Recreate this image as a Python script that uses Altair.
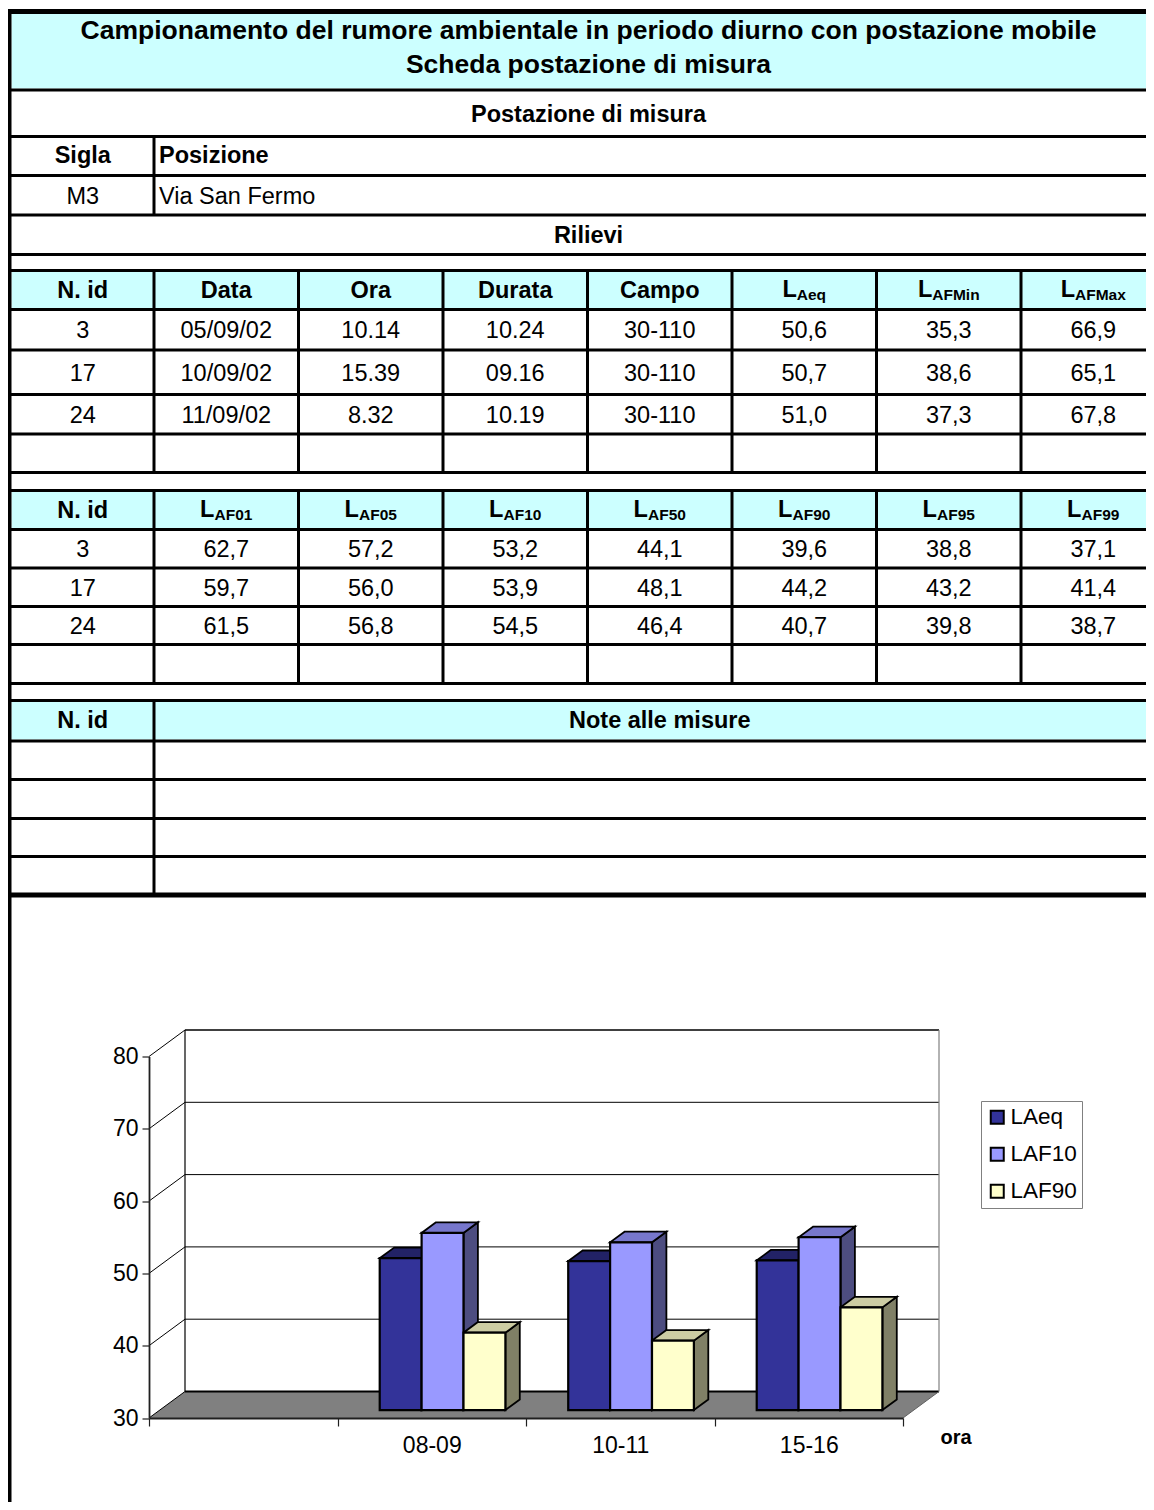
import altair as alt
import pandas as pd

FONT = "Liberation Sans"

# ------------------------------------------------------------------ data
title_lines = ["Campionamento del rumore ambientale in periodo diurno con postazione mobile",
               "Scheda postazione di misura"]
section_postazione = "Postazione di misura"
section_rilievi = "Rilievi"
sigla_header = ["Sigla", "Posizione"]
sigla_values = ["M3", "Via San Fermo"]

head1 = ["N. id", "Data", "Ora", "Durata", "Campo", "L|Aeq", "L|AFMin", "L|AFMax"]
ids = [3, 17, 24]
date = ["05/09/02", "10/09/02", "11/09/02"]
ora = ["10.14", "15.39", "8.32"]
durata = ["10.24", "09.16", "10.19"]
campo = ["30-110", "30-110", "30-110"]
laeq = [50.6, 50.7, 51.0]
lafmin = [35.3, 38.6, 37.3]
lafmax = [66.9, 65.1, 67.8]

head2 = ["N. id", "L|AF01", "L|AF05", "L|AF10", "L|AF50", "L|AF90", "L|AF95", "L|AF99"]
laf01 = [62.7, 59.7, 61.5]
laf05 = [57.2, 56.0, 56.8]
laf10 = [53.2, 53.9, 54.5]
laf50 = [44.1, 48.1, 46.4]
laf90 = [39.6, 44.2, 40.7]
laf95 = [38.8, 43.2, 39.8]
laf99 = [37.1, 41.4, 38.7]

notes_header = ["N. id", "Note alle misure"]

# chart (the first category band is empty in the original)
categories = ["", "08-09", "10-11", "15-16"]
series = ["LAeq", "LAF10", "LAF90"]
chart_LAeq = [None, 51.0, 50.6, 50.7]
chart_LAF10 = [None, 54.5, 53.2, 53.9]
chart_LAF90 = [None, 40.7, 39.6, 44.2]
y_ticks = [30, 40, 50, 60, 70, 80]
x_title = "ora"

# ------------------------------------------------------------------ styles / layout
front_colors = ["#333399", "#9999FF", "#FFFFCC"]
top_colors = ["#222266", "#7777CC", "#CCCCA3"]
side_colors = ["#1A1A4D", "#4D4D80", "#808066"]
CYAN = "#CCFFFF"
AXIS_COL = "#202020"
AXIS_FS = 23

TOTAL_W, TOTAL_H = 1138, 1494     # whole svg
OX, OY = 8, 8                     # page margin
# front plane of the 3-D box (page px) -> this is the plot area
AX_X0, AX_X1 = 149, 903
AX_Y30, AX_Y80 = 1418, 1056.5
PW, PH = AX_X1 - AX_X0, AX_Y30 - AX_Y80
PAD = {"left": AX_X0 - OX, "top": AX_Y80 - OY,
       "right": TOTAL_W - (AX_X0 - OX) - PW, "bottom": TOTAL_H - (AX_Y80 - OY) - PH}

col_edges = [11.5, 154, 298.5, 443, 587.5, 732, 876.5, 1021, 1165.5]
hl_y = [11.5, 90, 136.5, 175.5, 215, 254.5, 270.5, 309.5, 350, 394.5, 434, 472.5,
        490.5, 529.5, 568, 606.5, 644.5, 683.5, 700.5, 741, 779.5, 818.5, 856.5, 895]
hl_w = [5] + [3] * 22 + [5]
X_LEFT, X_RIGHT = 6.5, 1180
TXT, TITLE, SUB = 23.5, 26.5, 15.5
LEFT_TXT_X = 159

DEPTH_PX = (36, 26.5)
BAR_F0, BAR_F1 = 0.30, 0.70
GROUP = 2 / 3

n_cat = len(categories)
Y0, YTOP = y_ticks[0], y_ticks[-1]
PX_PER_CAT = PW / n_cat
PX_PER_DB = PH / (YTOP - Y0)
DX = DEPTH_PX[0] / PX_PER_CAT
DY = DEPTH_PX[1] / PX_PER_DB


def ux(p):   # page x -> category units
    return (p - AX_X0) / PX_PER_CAT


def uy(p):   # page y -> dB units
    return Y0 + (AX_Y30 - p) / PX_PER_DB


ARIAL_BOLD = {"L": 611, "A": 722, "e": 556, "q": 611, "F": 611, "M": 833, "i": 278,
              "n": 611, "a": 556, "x": 556}
for d in "0123456789":
    ARIAL_BOLD[d] = 556


def wbold(s, size):
    return sum(ARIAL_BOLD[c] for c in s) * size / 1000


def mid(i):
    return (hl_y[i] + hl_y[i + 1]) / 2


def cmid(j):
    return (col_edges[j] + col_edges[j + 1]) / 2


def fmt(v):
    return f"{v:.1f}".replace(".", ",")


CENTER_ALL = (col_edges[0] + col_edges[-1]) / 2

# ------------------------------------------------------------------ scales and axes
xs = alt.Scale(domain=[0, n_cat], nice=False, zero=False)
ys = alt.Scale(domain=[Y0, YTOP], nice=False, zero=False)

label_expr = "[" + ", ".join(f"'{c}'" for c in categories + [""]) + "][datum.value]"
x_axis = alt.Axis(orient="bottom", values=list(range(n_cat + 1)),
                  labelExpr=label_expr, labelOffset=PX_PER_CAT / 2,
                  labelFont=FONT, labelFontSize=AXIS_FS, labelColor="black", labelPadding=8,
                  labelFlush=False, labelOverlap=False, labelBound=False,
                  tickSize=8, tickColor=AXIS_COL, tickWidth=1.2,
                  domainColor=AXIS_COL, domainWidth=1.8,
                  grid=False, zindex=1,
                  title=x_title, titleFont=FONT, titleFontSize=20, titleFontWeight="bold",
                  titleColor="black", titleX=955.5 - AX_X0, titleY=19,
                  titleAlign="center", titleBaseline="middle")
y_axis = alt.Axis(orient="left", values=y_ticks,
                  labelFont=FONT, labelFontSize=AXIS_FS, labelColor="black", labelPadding=4,
                  labelFlush=False, labelOverlap=False,
                  tickSize=7, tickColor=AXIS_COL, tickWidth=1.2,
                  domainColor=AXIS_COL, domainWidth=1.8,
                  grid=False, zindex=1, title=None)
XA = dict(scale=xs, axis=x_axis)
YA = dict(scale=ys, axis=y_axis)

# ------------------------------------------------------------------ table
cyan_rows = [0, 6, 12, 18]
cyan_df = pd.DataFrame([dict(x=ux(col_edges[0]), x2=ux(X_RIGHT),
                             y=uy(hl_y[i] + hl_w[i] / 2), y2=uy(hl_y[i + 1] - hl_w[i + 1] / 2))
                        for i in cyan_rows])

rules = []
for yy, ww in zip(hl_y, hl_w):
    rules.append(dict(x=ux(X_LEFT), x2=ux(X_RIGHT), y=uy(yy), y2=uy(yy), w=ww))
rules.append(dict(x=ux(9), x2=ux(9), y=uy(9), y2=uy(OY + TOTAL_H + 2), w=5))
spans_first = [(2, 4), (6, 11), (12, 17), (18, 23)]
spans_other = [(6, 11), (12, 17)]
for j in range(1, 8):
    for a, b in (spans_first if j == 1 else spans_other):
        rules.append(dict(x=ux(col_edges[j]), x2=ux(col_edges[j]),
                          y=uy(hl_y[a]), y2=uy(hl_y[b]), w=3))
rule_df = pd.DataFrame(rules)

bold_c, reg_c, bold_l, reg_l, sub_main, sub_small = [], [], [], [], [], []


def put(lst, x, yc, t, s):
    # yc = visual centre of the capitals, baseline placed below it
    lst.append(dict(x=ux(x), y=uy(yc + 0.358 * s), t=t, s=s))


put(bold_c, CENTER_ALL, 30, title_lines[0], TITLE)
put(bold_c, CENTER_ALL, 64, title_lines[1], TITLE)
put(bold_c, CENTER_ALL, mid(1), section_postazione, TXT)
put(bold_c, cmid(0), mid(2) - 1.5, sigla_header[0], TXT)
put(bold_l, LEFT_TXT_X, mid(2) - 1.5, sigla_header[1], TXT)
put(reg_c, cmid(0), mid(3), sigla_values[0], TXT)
put(reg_l, LEFT_TXT_X, mid(3), sigla_values[1], TXT)
put(bold_c, CENTER_ALL, mid(4), section_rilievi, TXT)


def add_header(cells, row):
    for j, h in enumerate(cells):
        if "|" in h:
            m, s = h.split("|")
            total = wbold(m, TXT) + wbold(s, SUB)
            x0 = cmid(j) - total / 2
            sub_main.append(dict(x=ux(x0), y=uy(mid(row) + 6.5), t=m, s=TXT))
            sub_small.append(dict(x=ux(x0 + wbold(m, TXT)), y=uy(mid(row) + 10), t=s, s=SUB))
        else:
            put(bold_c, cmid(j), mid(row), h, TXT)


add_header(head1, 6)
for k in range(3):
    vals = [str(ids[k]), date[k], ora[k], durata[k], campo[k],
            fmt(laeq[k]), fmt(lafmin[k]), fmt(lafmax[k])]
    for j, v in enumerate(vals):
        put(reg_c, cmid(j), mid(7 + k), v, TXT)
add_header(head2, 12)
for k in range(3):
    vals = [str(ids[k]), fmt(laf01[k]), fmt(laf05[k]), fmt(laf10[k]), fmt(laf50[k]),
            fmt(laf90[k]), fmt(laf95[k]), fmt(laf99[k])]
    for j, v in enumerate(vals):
        put(reg_c, cmid(j), mid(13 + k), v, TXT)
put(bold_c, cmid(0), mid(18) - 1, notes_header[0], TXT)
put(bold_c, (col_edges[1] + col_edges[-1]) / 2, mid(18) - 1, notes_header[1], TXT)

cyan = alt.Chart(cyan_df).mark_rect(color=CYAN).encode(
    x=alt.X("x:Q", **XA), x2="x2:Q", y=alt.Y("y:Q", **YA), y2="y2:Q")
lines = alt.Chart(rule_df).mark_rule(color="black").encode(
    x=alt.X("x:Q", **XA), x2="x2:Q", y=alt.Y("y:Q", **YA), y2="y2:Q",
    strokeWidth=alt.StrokeWidth("w:Q", scale=None))


def text_layer(rows, align, weight):
    return alt.Chart(pd.DataFrame(rows)).mark_text(
        font=FONT, align=align, baseline="alphabetic", fontWeight=weight, color="black"
    ).encode(x=alt.X("x:Q", **XA), y=alt.Y("y:Q", **YA), text="t:N",
             size=alt.Size("s:Q", scale=None))


table_layers = [
    cyan, lines,
    text_layer(bold_c, "center", "bold"),
    text_layer(reg_c, "center", "normal"),
    text_layer(bold_l, "left", "bold"),
    text_layer(reg_l, "left", "normal"),
    text_layer(sub_main, "left", "bold"),
    text_layer(sub_small, "left", "bold"),
]

# ------------------------------------------------------------------ 3-D column chart
floor_df = pd.DataFrame([dict(y=Y0, xa=0, xb=n_cat), dict(y=Y0 + DY, xa=DX, xb=n_cat + DX)])
floor = alt.Chart(floor_df).mark_area(orient="horizontal", color="#808080").encode(
    y=alt.Y("y:Q", **YA), x=alt.X("xa:Q", **XA), x2="xb:Q")

walls = []
for v in y_ticks:
    walls.append(dict(x=0, y=v, x2=DX, y2=v + DY, c="black", w=1))
    walls.append(dict(x=DX, y=v + DY, x2=n_cat + DX, y2=v + DY, c="black",
                      w=2 if v == Y0 else (1.5 if v == YTOP else 1)))
walls.append(dict(x=DX, y=Y0 + DY, x2=DX, y2=YTOP + DY, c="black", w=1.2))
walls.append(dict(x=n_cat + DX, y=Y0 + DY, x2=n_cat + DX, y2=YTOP + DY, c="#808080", w=1.2))
walls.append(dict(x=n_cat, y=Y0, x2=n_cat + DX, y2=Y0 + DY, c="#606060", w=1))
wall_layer = alt.Chart(pd.DataFrame(walls)).mark_rule().encode(
    x=alt.X("x:Q", **XA), x2="x2:Q", y=alt.Y("y:Q", **YA), y2="y2:Q",
    color=alt.Color("c:N", scale=None), strokeWidth=alt.StrokeWidth("w:Q", scale=None))

values = {"LAeq": chart_LAeq, "LAF10": chart_LAF10, "LAF90": chart_LAF90}
bw = GROUP / len(series)
fronts, tops, sides = [], [], []
for ci in range(n_cat):
    for si, s in enumerate(series):
        v = values[s][ci]
        if v is None:
            continue
        bid = f"{ci}-{si}"
        x0 = ci + 0.5 - GROUP / 2 + si * bw
        x1 = x0 + bw
        fronts.append(dict(series=s, xa=x0 + BAR_F0 * DX, xb=x1 + BAR_F0 * DX,
                           ya=Y0 + BAR_F0 * DY, yb=v + BAR_F0 * DY))
        for f in (BAR_F0, BAR_F1):
            tops.append(dict(bar=bid, c=top_colors[si], y=v + f * DY,
                             xa=x0 + f * DX, xb=x1 + f * DX))
            sides.append(dict(bar=bid, c=side_colors[si], x=x1 + f * DX,
                              ya=Y0 + f * DY, yb=v + f * DY))

side_layer = alt.Chart(pd.DataFrame(sides)).mark_area(
    orient="vertical", stroke="black", strokeWidth=1.8).encode(
    x=alt.X("x:Q", **XA), y=alt.Y("ya:Q", **YA), y2="yb:Q",
    detail="bar:N", fill=alt.Fill("c:N", scale=None))
top_layer = alt.Chart(pd.DataFrame(tops)).mark_area(
    orient="horizontal", stroke="black", strokeWidth=1.8).encode(
    y=alt.Y("y:Q", **YA), x=alt.X("xa:Q", **XA), x2="xb:Q",
    detail="bar:N", fill=alt.Fill("c:N", scale=None))
front_layer = alt.Chart(pd.DataFrame(fronts)).mark_rect(stroke="black", strokeWidth=2.2).encode(
    x=alt.X("xa:Q", **XA), x2="xb:Q", y=alt.Y("ya:Q", **YA), y2="yb:Q",
    fill=alt.Fill("series:N", scale=alt.Scale(domain=series, range=front_colors),
                  legend=alt.Legend(orient="none", legendX=981 - AX_X0, legendY=1101 - AX_Y80,
                                    title=None, symbolType="square", symbolSize=169,
                                    symbolStrokeColor="black", symbolStrokeWidth=2,
                                    labelFont=FONT, labelFontSize=22.5, labelColor="black",
                                    labelOffset=2, rowPadding=14, padding=5,
                                    strokeColor="#808080", fillColor="white",
                                    labelLimit=300)))

chart = alt.layer(
    *table_layers, floor, wall_layer, side_layer, top_layer, front_layer
).resolve_scale(
    fill="independent"
).properties(
    width=PW, height=PH, padding=PAD, autosize=alt.AutoSizeParams(type="none")
).configure_view(stroke=None)

chart.save("out.html", embed_options={"renderer": "svg", "actions": False})
